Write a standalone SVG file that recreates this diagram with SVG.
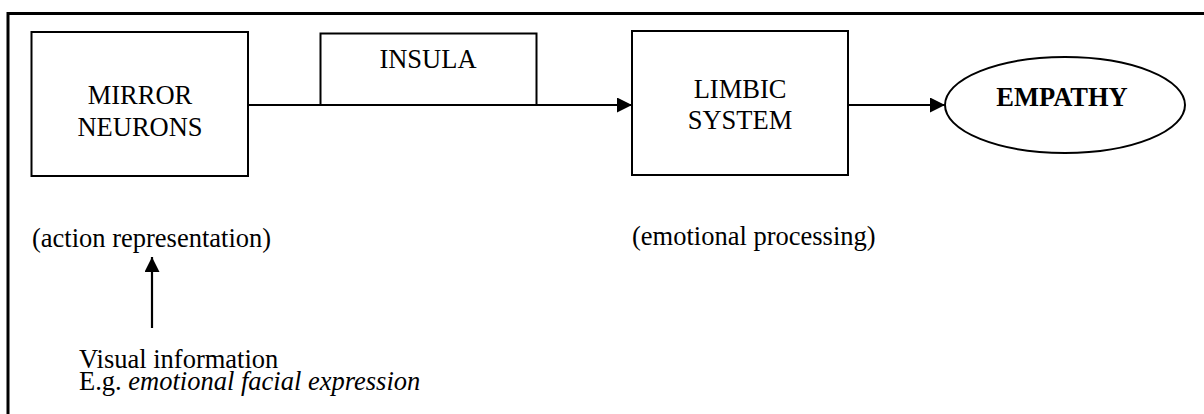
<svg xmlns="http://www.w3.org/2000/svg" width="1204" height="414" viewBox="0 0 1204 414">
  <style>
    .box { fill: #fff; stroke: #000; stroke-width: 2; }
    .frame { fill: none; stroke: #000; stroke-width: 3; }
    .edge { fill: none; stroke: #000; stroke-width: 2.2; }
    text { font-family: "Liberation Serif", "Times New Roman", serif; font-size: 26.5px; fill: #000; }
    .c { text-anchor: middle; }
    .b { font-weight: bold; }
    .i { font-style: italic; }
  </style>
  <defs>
    <marker id="arrow" viewBox="0 0 15 15" refX="15" refY="7.5" markerWidth="15" markerHeight="15" markerUnits="userSpaceOnUse" orient="auto">
      <path d="M0,0 L15,7.5 L0,15 Z" fill="#000"/>
    </marker>
  </defs>

  <rect width="1204" height="414" fill="#fff"/>

  <!-- outer frame: top and left edges -->
  <path class="frame" d="M8,414 V13.5 H1204"/>

  <g id="connectors">
    <path class="edge" d="M248,105 H632" marker-end="url(#arrow)"/>
    <path class="edge" d="M848,105 H945" marker-end="url(#arrow)"/>
    <path class="edge" d="M152,328 V257" marker-end="url(#arrow)"/>
  </g>

  <g id="mirror-neurons">
    <rect class="box" x="31.5" y="32" width="216.5" height="144"/>
    <text class="c" x="140" y="104">MIRROR</text>
    <text class="c" x="140" y="136">NEURONS</text>
  </g>

  <g id="insula">
    <rect class="box" x="320.5" y="33.5" width="216" height="71.5"/>
    <text class="c" x="428" y="68">INSULA</text>
  </g>

  <g id="limbic-system">
    <rect class="box" x="632" y="31" width="216" height="144"/>
    <text class="c" x="740" y="97.5">LIMBIC</text>
    <text class="c" x="740" y="128.5">SYSTEM</text>
  </g>

  <g id="empathy">
    <ellipse class="box" cx="1065" cy="105" rx="120" ry="48"/>
    <text class="c b" x="1062" y="105.5">EMPATHY</text>
  </g>

  <g id="labels">
    <text x="32" y="246.5">(action representation)</text>
    <text x="632" y="245">(emotional processing)</text>
    <text x="79" y="368">Visual information</text>
    <text x="79" y="390">E.g. <tspan class="i">emotional facial expression</tspan></text>
  </g>
</svg>
